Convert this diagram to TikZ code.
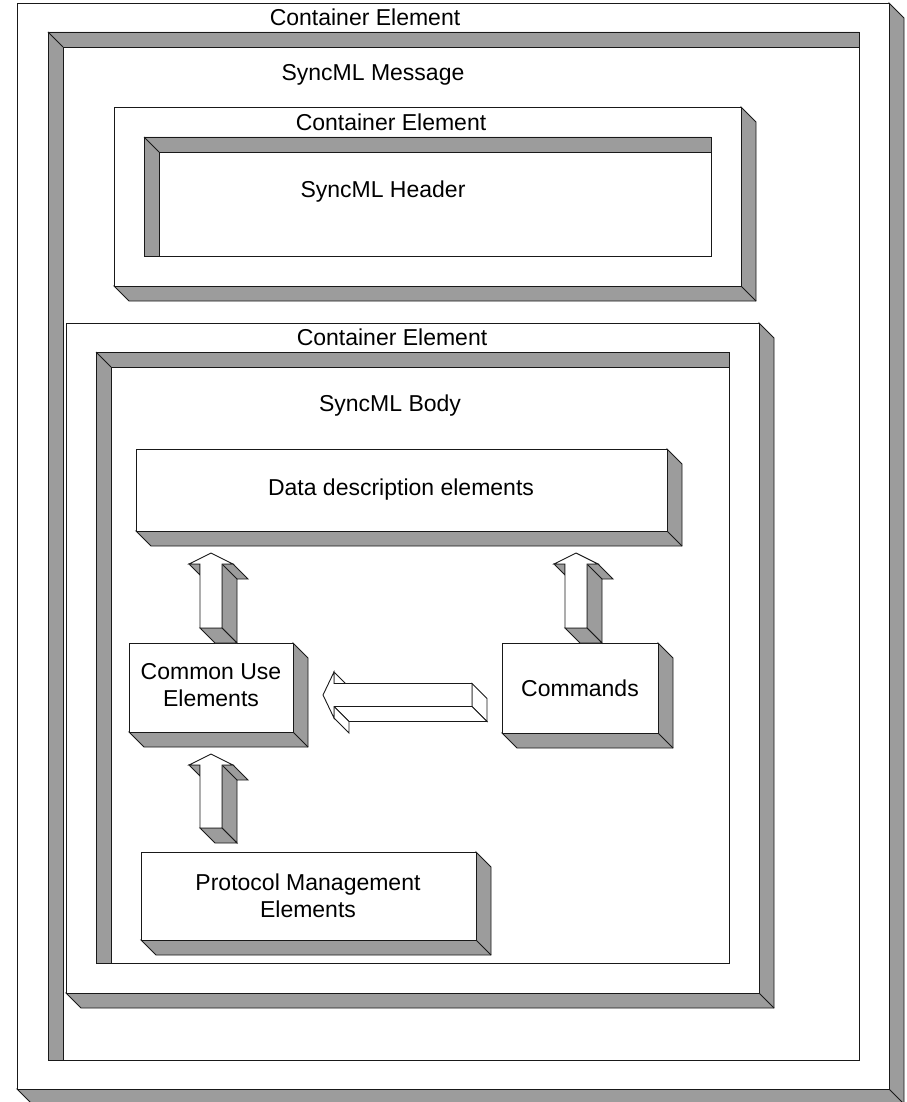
\documentclass[tikz,border=0pt]{standalone}
\usepackage{fontspec}
\setmainfont{Liberation Sans}
\tikzset{
  wall/.style={fill={rgb,255:red,156;green,156;blue,156}, draw=black!90, line width=0.9pt, line join=miter},
  face/.style={fill=white, draw=black!90, line width=0.9pt},
  edge/.style={draw=black!90, line width=0.9pt},
  lbl/.style={font=\fontsize{23}{27.5}\selectfont, align=center, inner sep=0pt},
}
% raised block: front face (x1,y1)-(x2,y2), depth 15 to the lower right
\newcommand{\raisedblock}[5]{%
  \filldraw[wall] (#3,#2) -- (#3+15,#2+15) -- (#3+15,#4+15) -- (#1+15,#4+15) -- (#1,#4) -- (#3,#4) -- cycle;
  \draw[edge] (#3,#4) -- (#3+15,#4+15);
  \node[face, rectangle, minimum width=#3-#1, minimum height=#4-#2, inner sep=0pt, outer sep=0pt, anchor=north west] (#5) at (#1,#2) {};
}
% sunken frame: outer (x1,y1)-(x2,y2), walls on top and left
\newcommand{\sunkenframe}[5]{%
  \filldraw[face] (#1,#2) rectangle (#3,#4);
  \filldraw[wall] (#1,#2) -- (#3,#2) -- (#3,#2+15) -- (#1+15,#2+15) -- (#1+15,#4) -- (#1,#4) -- cycle;
  \draw[edge] (#1,#2) -- (#1+15,#2+15);
  \coordinate (#5) at ({(#1+#3)/2},{(#2+#4)/2});
}
% upward block arrow: centre x, tip y, bottom y
\newcommand{\blockuparrow}[3]{%
  \filldraw[wall] (#1-22,#2+11) -- (#1-11,#2+11) -- (#1-11,#2+22) -- cycle;
  \filldraw[wall] (#1+11,#2+11) -- (#1+22,#2+11) -- (#1+37,#2+26) -- (#1+26,#2+26) -- (#1+26,#3+15) -- (#1+11,#3) -- cycle;
  \draw[edge] (#1+11,#2+11) -- (#1+26,#2+26);
  \filldraw[wall] (#1-11,#3) -- (#1+11,#3) -- (#1+26,#3+15) -- (#1+4,#3+15) -- cycle;
  \filldraw[face] (#1,#2) -- (#1+22,#2+11) -- (#1+11,#2+11) -- (#1+11,#3) -- (#1-11,#3) -- (#1-11,#2+11) -- (#1-22,#2+11) -- cycle;
}
\begin{document}
\begin{tikzpicture}[x=1pt,y=-1pt]
\useasboundingbox (0,0) rectangle (906,1102);

% message envelope
\raisedblock{17}{3}{889}{1089}{outer}
\sunkenframe{48}{32}{859}{1060}{outerin}
\node[lbl] (t1) at (365,17) {Container Element};
\node[lbl] (t2) at (373,75) {SyncML Message};

% header container
\raisedblock{114}{107}{741}{286}{hdr}
\sunkenframe{144}{137}{711}{256}{hdrin}
\node[lbl] (t3) at (391,122) {Container Element};
\node[lbl] (t4) at (383,192) {SyncML Header};

% body container
\raisedblock{66}{323}{759}{993}{body}
\sunkenframe{96}{352}{729}{963}{bodyin}
\node[lbl] (t5) at (392,337) {Container Element};
\node[lbl] (t6) at (390,406) {SyncML Body};

% element groups
\raisedblock{136}{449}{667}{531}{data}
\node[lbl] (dataT) at (401,490) {Data description elements};
\raisedblock{129}{643}{293}{732}{common}
\node[lbl] (commonT) at (211,685) {Common Use\\Elements};
\raisedblock{502}{643}{658}{733}{cmds}
\node[lbl] (cmdsT) at (580,688) {Commands};
\raisedblock{141}{852}{476}{940}{proto}
\node[lbl] (protoT) at (308,896) {Protocol Management\\Elements};

% dependency arrows
\blockuparrow{211}{553}{628}
\blockuparrow{576}{553}{628}
\blockuparrow{211}{754}{828}

% horizontal arrow from Commands to Common Use
\coordinate (hTip) at (323,695);
\coordinate (hEnd) at (472,695);
\filldraw[face] (334,672) -- (345.5,683.5) -- (334,683.5) -- cycle;
\filldraw[face] (472,683.5) -- (487,698.5) -- (487,721.5) -- (472,706.5) -- cycle;
\filldraw[face] (334,706.5) -- (472,706.5) -- (487,721.5) -- (349,721.5) -- cycle;
\filldraw[face] (334,706.5) -- (349,721.5) -- (349,733) -- (334,718) -- cycle;
\filldraw[face] (hTip) -- (334,672) -- (334,683.5) -- (472,683.5) -- (472,706.5) -- (334,706.5) -- (334,718) -- cycle;
\end{tikzpicture}
\end{document}
